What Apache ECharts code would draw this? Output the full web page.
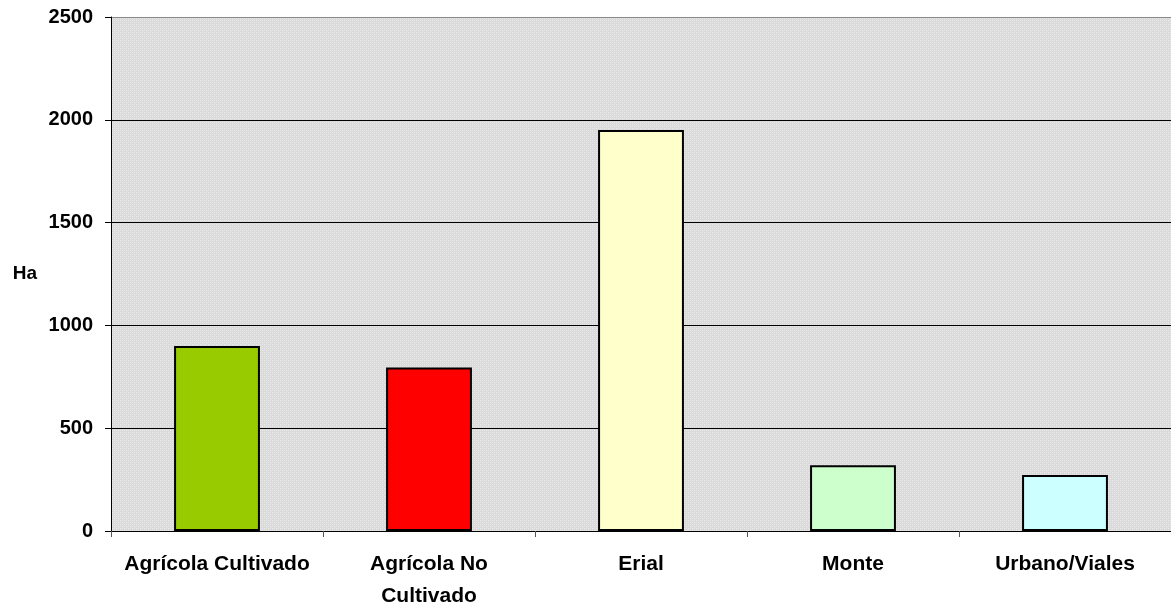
<!DOCTYPE html>
<html><head><meta charset="utf-8">
<script src="https://cdn.jsdelivr.net/npm/echarts@6/dist/echarts.min.js"></script>
<style>html,body{margin:0;padding:0;background:#fff}#c{width:1171px;height:605px}</style>
</head><body><div id="c"></div>
<script>
const categories = ['Agrícola Cultivado', 'Agrícola No\nCultivado', 'Erial', 'Monte', 'Urbano/Viales'];
const values = [900, 795, 1950, 320, 272];
const barColors = ['#99cc00', '#ff0000', '#ffffcc', '#ccffcc', '#ccffff'];
const yTicks = [0, 500, 1000, 1500, 2000, 2500];

const pc = document.createElement('canvas');
pc.width = 4; pc.height = 4;
const g = pc.getContext('2d');
g.fillStyle = '#dadada'; g.fillRect(0,0,4,4);
g.fillStyle = '#ececec'; g.fillRect(0,0,1,1); g.fillRect(2,2,1,1);
g.fillStyle = '#e4e4e4'; g.fillRect(2,0,1,1); g.fillRect(0,2,1,1);

const FONT = 'Liberation Sans, Arial, sans-serif';
const chart = echarts.init(document.getElementById('c'), null, {renderer: 'canvas'});
chart.setOption({
  animation: false,
  grid: {left: 111, right: 0, top: 17, bottom: 74, show: true, containLabel: false, outerBoundsMode: 'none',
         backgroundColor: {image: pc, repeat: 'repeat'}, borderWidth: 0},
  xAxis: {
    type: 'category', data: categories,
    axisLine: {lineStyle: {color: '#000', width: 1}},
    axisTick: {show: true, length: 6, lineStyle: {color: '#555'}},
    axisLabel: {interval: 0, hideOverlap: false, color: '#000', fontFamily: FONT, fontWeight: 'bold', fontSize: 21, margin: 17, lineHeight: 32}
  },
  yAxis: {
    type: 'value', min: yTicks[0], max: yTicks[yTicks.length-1], interval: 500,
    name: 'Ha', nameLocation: 'middle', nameRotate: 0, nameGap: 74,
    nameTextStyle: {color: '#000', fontFamily: FONT, fontWeight: 'bold', fontSize: 19},
    axisLine: {show: true, lineStyle: {color: '#000'}},
    axisTick: {show: true, length: 6, lineStyle: {color: '#000'}},
    axisLabel: {color: '#000', fontFamily: FONT, fontWeight: 'bold', fontSize: 20, margin: 18,
                formatter: v => String(v)},
    splitLine: {show: true, lineStyle: {color: ['#000','#000','#000','#000','#000','#888'], width: 1}}
  },
  series: [{
    type: 'bar', barWidth: '40.5%',
    data: values.map((v, i) => ({value: v, itemStyle: {color: barColors[i]}})),
    itemStyle: {borderColor: '#000', borderWidth: 2}
  }]
});
</script></body></html>
